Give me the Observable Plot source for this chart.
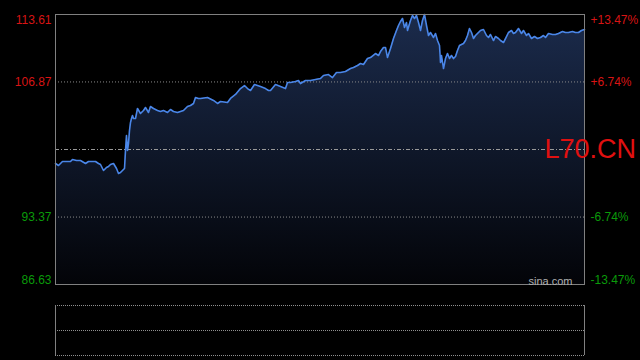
<!DOCTYPE html>
<html>
<head>
<meta charset="utf-8">
<script src="https://cdn.jsdelivr.net/npm/d3@7"></script>
<script src="https://cdn.jsdelivr.net/npm/@observablehq/plot@0.6"></script>
<style>
  html, body { margin: 0; padding: 0; background: #000; width: 640px; height: 360px; overflow: hidden; }
  #chart svg { display: block; }
</style>
</head>
<body>
<div id="chart"></div>
<script>
// ---- data ----
const symbol = "L70.CN";
const prevClose = 100.12;
const yMin = 86.63, yMax = 113.61;
const leftTicks = [113.61, 106.87, 93.37, 86.63];
const leftLabels = ["113.61", "106.87", "93.37", "86.63"];
const rightLabels = ["+13.47%", "+6.74%", "-6.74%", "-13.47%"];
const sessionLength = 529;
const tick = [0,3,7,11,15,17,21,25,30,33,37,40,43,45,48,51,53,55,58,61,63,65,67,69,
  70,71,72,73,74,75,76,77,78,80,82,85,88,90,93,95,98,102,105,108,112,115,118,122,125,128,
  132,135,138,140,143,145,152,158,162,165,172,175,180,185,189,192,195,199,205,210,213,215,
  220,225,230,232,235,240,243,245,250,255,260,265,268,273,277,281,285,290,295,298,302,305,
  308,312,315,320,323,325,328,330,332,335,338,341,343,345,347,349,351,352,355,357,359,361,
  363,365,367,369,371,373,375,378,380,382,384,385,386,388,390,392,394,396,398,400,402,404,
  406,408,410,412,414,416,418,420,423,425,428,431,433,435,438,440,443,445,448,450,453,456,
  458,460,463,466,468,471,473,476,479,482,485,488,490,493,497,500,503,507,510,513,517,520,
  523,526,529];
const price = [98.72,98.52,98.92,98.92,98.92,99.12,99.02,99.02,98.72,98.92,98.92,98.92,98.72,98.62,98.02,98.32,98.42,98.62,98.72,98.22,97.72,97.82,98.02,98.22,
  100.02,101.52,100.02,100.72,102.02,102.82,103.22,103.52,103.22,103.22,104.22,103.72,104.02,104.32,103.82,104.42,104.22,104.02,103.92,104.02,103.82,104.12,103.92,103.82,103.92,104.02,
  104.42,104.52,104.72,105.32,105.22,105.22,105.32,105.02,104.72,104.92,104.82,105.22,105.62,106.21,106.51,106.21,106.02,106.61,106.41,106.21,106.02,106.02,
  106.61,106.41,106.21,106.81,106.81,106.91,107.01,106.71,107.01,107.01,107.11,107.21,107.51,107.61,107.31,107.81,107.81,107.91,108.21,108.31,108.51,108.71,
  108.61,109.21,109.31,109.71,109.51,109.91,110.31,110.31,109.31,110.21,111.21,112.01,112.51,112.91,113.21,112.31,112.81,112.01,113.01,113.51,113.21,113.51,
  112.81,112.01,113.01,113.61,112.51,111.51,111.81,111.31,111.71,111.01,110.51,108.81,109.51,108.21,109.21,109.71,109.21,109.51,109.21,109.41,110.01,110.51,
  110.61,110.71,111.01,111.51,112.21,111.81,111.21,111.51,111.81,112.01,112.11,111.51,111.31,111.61,111.01,111.41,111.21,111.01,110.81,111.21,111.81,112.01,
  111.71,111.81,112.21,111.71,112.01,111.51,111.71,111.21,111.41,111.21,111.31,111.51,111.31,111.71,111.61,111.61,111.71,111.91,111.81,111.81,111.91,111.81,
  111.81,112.01,112.11];

const series = tick.map((t, i) => ({t, v: price[i]}));
const font = "'Liberation Sans', Arial, sans-serif";

const defs = () => {
  const d = d3.create("svg:defs");
  const g = d.append("linearGradient").attr("id", "areaGrad").attr("x1", 0).attr("y1", 0).attr("x2", 0).attr("y2", 1);
  g.append("stop").attr("offset", "0%").attr("stop-color", "#1b2b4c");
  g.append("stop").attr("offset", "100%").attr("stop-color", "#030408");
  return d.node();
};

const red = "#d81414", green = "#0a9a0a";
const main = Plot.plot({
  width: 640, height: 290,
  marginTop: 14, marginRight: 56, marginBottom: 6, marginLeft: 55,
  style: {background: "#000", fontFamily: font, overflow: "visible"},
  x: {domain: [0, sessionLength], axis: null},
  y: {domain: [yMin, yMax], axis: null},
  marks: [
    defs,
    Plot.areaY(series, {x: "t", y1: yMin, y2: "v", fill: "url(#areaGrad)", curve: "linear"}),
    Plot.ruleY([leftTicks[1], leftTicks[2]], {stroke: "#8a8a8a", strokeDasharray: "1,2"}),
    Plot.ruleY([prevClose], {stroke: "#9a9a9a", strokeDasharray: "4,2,1,2"}),
    Plot.lineY(series, {x: "t", y: "v", stroke: "#4a86e8", strokeWidth: 1.6}),
    Plot.frame({stroke: "#808080"}),
    // left labels
    Plot.text([0], {y: () => leftTicks[0], text: () => leftLabels[0], frameAnchor: "left", dx: -4, dy: 1, textAnchor: "end", lineAnchor: "top", fill: red, fontSize: 12}),
    Plot.text([0], {y: () => leftTicks[1], text: () => leftLabels[1], frameAnchor: "left", dx: -4, textAnchor: "end", fill: red, fontSize: 12}),
    Plot.text([0], {y: () => leftTicks[2], text: () => leftLabels[2], frameAnchor: "left", dx: -4, textAnchor: "end", fill: green, fontSize: 12}),
    Plot.text([0], {y: () => leftTicks[3], text: () => leftLabels[3], frameAnchor: "left", dx: -4, dy: -1, textAnchor: "end", lineAnchor: "bottom", fill: green, fontSize: 12}),
    // right labels
    Plot.text([0], {y: () => leftTicks[0], text: () => rightLabels[0], frameAnchor: "right", dx: 6, dy: 1, textAnchor: "start", lineAnchor: "top", fill: red, fontSize: 12}),
    Plot.text([0], {y: () => leftTicks[1], text: () => rightLabels[1], frameAnchor: "right", dx: 6, textAnchor: "start", fill: red, fontSize: 12}),
    Plot.text([0], {y: () => leftTicks[2], text: () => rightLabels[2], frameAnchor: "right", dx: 6, textAnchor: "start", fill: green, fontSize: 12}),
    Plot.text([0], {y: () => leftTicks[3], text: () => rightLabels[3], frameAnchor: "right", dx: 6, dy: -1, textAnchor: "start", lineAnchor: "bottom", fill: green, fontSize: 12}),
    // watermark and symbol
    Plot.text(["sina.com"], {text: d => d, frameAnchor: "bottom-right", dx: -12, dy: 0, textAnchor: "end", lineAnchor: "bottom", fill: "#b0b0b0", fontSize: 11}),
    Plot.text([symbol], {text: d => d, y: () => prevClose, frameAnchor: "right", dx: -40, textAnchor: "start", fill: "#e01010", fontSize: 27})
  ]
});

const lower = Plot.plot({
  width: 640, height: 70,
  marginTop: 15, marginRight: 56, marginBottom: 5, marginLeft: 55,
  style: {background: "#000", overflow: "visible"},
  x: {domain: [0, 1], axis: null},
  y: {domain: [0, 2], axis: null},
  marks: [
    Plot.ruleY([0, 1, 2], {stroke: "#909090", strokeDasharray: "1,1"}),
    Plot.ruleX([0, 1], {stroke: "#808080"})
  ]
});

document.getElementById("chart").append(main, lower);
</script>
</body>
</html>
